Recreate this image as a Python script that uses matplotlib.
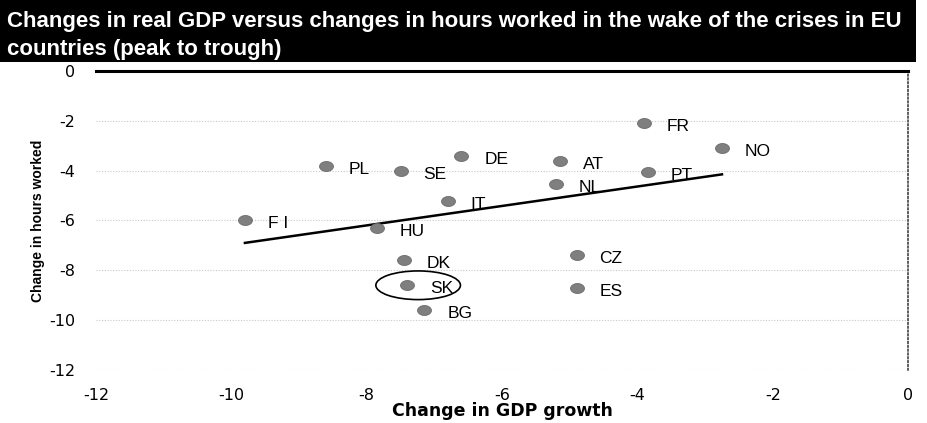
import numpy as np
import matplotlib
matplotlib.use("Agg")
import matplotlib.pyplot as plt
from matplotlib.patches import Ellipse, Rectangle
from matplotlib.path import Path
from matplotlib import font_manager as fm

countries = ["FI", "PL", "SE", "DE", "AT", "NL", "IT", "HU", "DK", "SK", "BG", "CZ", "ES", "FR", "NO", "PT"]
gdp_change = [-9.8, -8.6, -7.5, -6.6, -5.15, -5.2, -6.8, -7.85, -7.45, -7.4, -7.15, -4.9, -4.9, -3.9, -2.75, -3.85]
hours_change = [-6.0, -3.8, -4.0, -3.4, -3.6, -4.55, -5.2, -6.3, -7.6, -8.6, -9.6, -7.4, -8.7, -2.1, -3.1, -4.05]
trend_x = [-9.8, -2.75]
trend_y = [-6.9, -4.15]
highlight = "SK"
x_ticks = [-12, -10, -8, -6, -4, -2, 0]
y_ticks = [0, -2, -4, -6, -8, -10, -12]

names = {f.name for f in fm.fontManager.ttflist}
narrow = "Liberation Sans Narrow" if "Liberation Sans Narrow" in names else "Liberation Sans"
regular = "Liberation Sans"

fig = plt.figure(figsize=(9.27, 4.23), dpi=100)
ax = fig.add_axes([0.1036, 0.1253, 0.876, 0.707])

# title bar
fig.patches.append(Rectangle((0, 1 - 62 / 423), 0.988, 62 / 423, transform=fig.transFigure,
                             facecolor="black", edgecolor="none", zorder=0))
fig.text(7 / 927, 1 - 27 / 423, "Changes in real GDP versus changes in hours worked in the wake of the crises in EU",
         color="white", fontsize=16, fontweight="bold", family=narrow, va="baseline", ha="left")
fig.text(7 / 927, 1 - 55 / 423, "countries (peak to trough)",
         color="white", fontsize=16, fontweight="bold", family=narrow, va="baseline", ha="left")

# ellipse marker
t = np.linspace(0, 2 * np.pi, 40)
verts = np.column_stack([1.4 * np.cos(t), np.sin(t)])
ell_marker = Path(verts, closed=True)

ax.scatter(gdp_change, hours_change, marker=ell_marker, s=100, color="#7f7f7f",
           edgecolors="#6a6a6a", linewidths=0.6, zorder=3)
for c, x, y in zip(countries, gdp_change, hours_change):
    label = " ".join(c) if c == "FI" else c
    ax.annotate(label, (x, y), xytext=(16.5, -2.5), textcoords="offset points",
                fontsize=12.5, family=regular, va="center", ha="left", color="black", zorder=4)

ax.plot(trend_x, trend_y, color="black", lw=1.8, zorder=2)

hi = countries.index(highlight)
ax.add_patch(Ellipse((gdp_change[hi] + 0.16, hours_change[hi]), 1.25, 1.15, facecolor="none",
                     edgecolor="black", lw=1.2, zorder=5))

ax.set_xlim(-12, 0)
ax.set_ylim(-12, 0)
ax.set_xticks(x_ticks)
ax.set_yticks(y_ticks)
ax.set_xticklabels([str(v) for v in x_ticks], family="DejaVu Sans", fontsize=11.5)
ax.set_yticklabels([str(v) for v in y_ticks], family="DejaVu Sans", fontsize=11.5)
ax.tick_params(axis="x", length=0, pad=13)
ax.tick_params(axis="y", length=0, pad=15)
for yv in y_ticks[1:]:
    ax.axhline(yv, color="#c8c8c8", lw=0.8, ls=(0, (1, 1.5)), zorder=1)

ax.spines["left"].set_visible(False)
ax.spines["bottom"].set_visible(False)
ax.spines["top"].set_linewidth(2.2)
ax.spines["top"].set_color("black")
ax.spines["right"].set_linestyle((0, (1, 1.5)))
ax.spines["right"].set_linewidth(1.1)
ax.spines["right"].set_color("#333333")

ax.set_xlabel("Change in GDP growth", fontsize=12.5, fontweight="bold", family="DejaVu Sans", labelpad=-1)
ax.set_ylabel("Change in hours worked", fontsize=10, fontweight="bold", family=narrow, labelpad=3)

fig.savefig("out.png", dpi=100)
